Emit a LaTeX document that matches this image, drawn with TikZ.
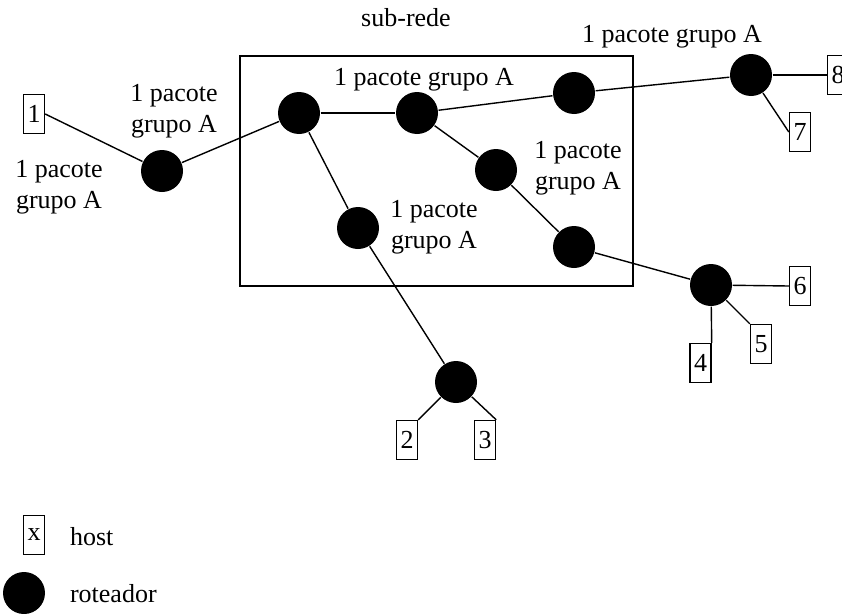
\documentclass[tikz,border=0pt]{standalone}
\usepackage{fontspec}
\setmainfont{Liberation Serif}
\begin{document}
\begin{tikzpicture}[x=1pt, y=-1pt, line width=1.4pt, router/.style={circle,fill=black,minimum size=42pt,inner sep=0pt}, host node/.style={rectangle,draw,minimum width=21pt,minimum height=39pt,inner sep=0pt}, label node/.style={align=center,inner sep=0pt}]
\useasboundingbox (0,0) rectangle (842,613);
\draw (240,56) rectangle (633,286);
\begin{scope}[every node/.style={font=\fontsize{26}{31}\selectfont}]
\node [host node](h1) at (34,114) {1};
\node [host node](h2) at (407,440) {2};
\node [host node](h3) at (485,440) {3};
\node [host node](h4) at (700.5,363) {4};
\node [host node](h5) at (761,344) {5};
\node [host node](h6) at (800,286) {6};
\node [host node](h7) at (800,132) {7};
\node [host node](h8) at (838,75) {8};
\node [router](rA) at (162,171) {};
\node [router](rB) at (299,113) {};
\node [router](rC) at (417,113) {};
\node [router](rD) at (574,93) {};
\node [router](rE) at (751,75) {};
\node [router](rF) at (496,170) {};
\node [router](rG) at (574,247) {};
\node [router](rH) at (358,228) {};
\node [router](rI) at (456,382) {};
\node [router](rJ) at (711,285) {};
\node [anchor=base](subrede) at (406,26) {sub-rede};
\node [anchor=base](lTop) at (672,42) {1 pacote grupo A};
\node [anchor=base](lIn) at (424,85) {1 pacote grupo A};
\node [label node](lA) at (174,111) {1 pacote\\grupo A};
\node [label node](lLeft) at (59,187) {1 pacote\\grupo A};
\node [label node](lF) at (578,168) {1 pacote\\grupo A};
\node [label node](lH) at (434,227) {1 pacote\\grupo A};
\node [host node](kHost) at (34,535) {x};
\node [router](kRouter) at (24,593) {};
\node [anchor=base west](tHost) at (66,545) {host};
\node [anchor=base west](tRouter) at (66,602) {roteador};
\end{scope}
\path 
	(h1.east) edge (rA)
	(rA) edge (rB)
	(rB) edge (rC)
	(rC) edge (rD)
	(rD) edge (rE)
	(rE) edge (h8.west)
	(rE) edge (h7.west)
	(rC) edge (rF)
	(rF) edge (rG)
	(rG) edge (rJ)
	(rJ) edge (h6.west)
	(rJ) edge (h5.north west)
	(rJ) edge (h4.north east)
	(rB) edge (rH)
	(rH) edge (rI)
	(rI) edge (h2.north east)
	(rI) edge (h3.north east)
	;
\end{tikzpicture}
\end{document}
